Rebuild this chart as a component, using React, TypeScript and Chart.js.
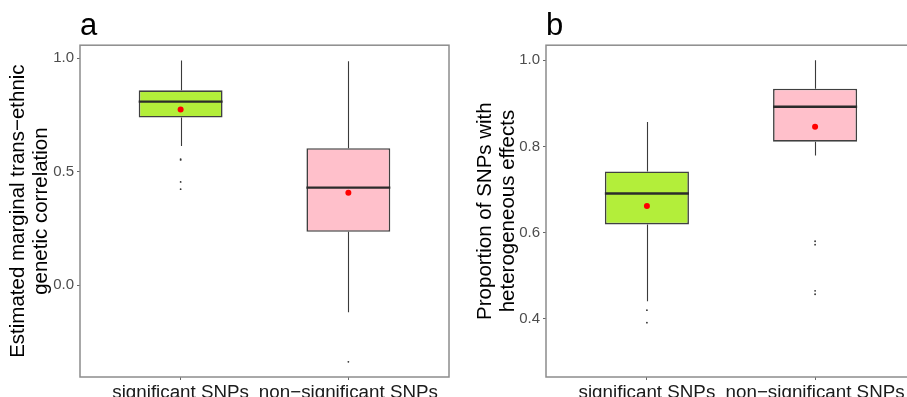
import React, { useEffect, useRef } from 'react';
import { Chart, registerables } from 'chart.js';

Chart.register(...registerables);

const FONT = "'Liberation Sans', Arial, sans-serif";

const categories = ['significant SNPs', 'non−significant SNPs'];
const xPositions = [1, 2];
const boxColors = ['#B3EE3A', '#FFC0CB'];

// Panel a: estimated marginal trans-ethnic genetic correlation
const aWhiskerLow = [0.614, -0.12];
const aQ1 = [0.739, 0.235];
const aMedian = [0.809, 0.43];
const aQ3 = [0.859, 0.604];
const aWhiskerHigh = [0.99, 0.987];
const aMean = [0.775, 0.407];
const aOutliers = [[0.556, 0.552, 0.455, 0.423], [-0.338]];
const aYTicks = [0, 0.5, 1.0];
const aYRange = [-0.405, 1.058];

// Panel b: proportion of SNPs with heterogeneous effects
const bWhiskerLow = [0.441, 0.779];
const bQ1 = [0.619, 0.811];
const bMedian = [0.691, 0.892];
const bQ3 = [0.742, 0.934];
const bWhiskerHigh = [0.857, 1.0];
const bMean = [0.662, 0.846];
const bOutliers = [[0.42, 0.391], [0.58, 0.572, 0.465, 0.457]];
const bYTicks = [0.4, 0.6, 0.8, 1.0];
const bYRange = [0.265, 1.035];

const boxExtras = {
  id: 'boxExtras',
  beforeDatasetsDraw(chart: any, _args: any, opts: any) {
    const ctx = chart.ctx;
    const xs = chart.scales.x;
    const ys = chart.scales.y;
    ctx.save();
    ctx.strokeStyle = '#3a3a3a';
    ctx.lineWidth = 1.1;
    opts.low.forEach((lo: number, i: number) => {
      const x = Math.round(xs.getPixelForValue(xPositions[i])) + 0.5;
      ctx.beginPath();
      ctx.moveTo(x, ys.getPixelForValue(opts.high[i]));
      ctx.lineTo(x, ys.getPixelForValue(opts.q3[i]));
      ctx.moveTo(x, ys.getPixelForValue(opts.q1[i]));
      ctx.lineTo(x, ys.getPixelForValue(lo));
      ctx.stroke();
    });
    ctx.restore();
  },
  afterDatasetDraw(chart: any, args: any, opts: any) {
    if (args.index !== 0) return;
    const ctx = chart.ctx;
    const ys = chart.scales.y;
    const meta = chart.getDatasetMeta(0);
    ctx.save();
    ctx.strokeStyle = '#2b2b2b';
    ctx.lineWidth = 2.4;
    meta.data.forEach((bar: any, i: number) => {
      const y = ys.getPixelForValue(opts.median[i]);
      ctx.beginPath();
      ctx.moveTo(bar.x - bar.width / 2, y);
      ctx.lineTo(bar.x + bar.width / 2, y);
      ctx.stroke();
    });
    ctx.restore();
  },
  afterDraw(chart: any) {
    const { left, top, right, bottom } = chart.chartArea;
    const ctx = chart.ctx;
    ctx.save();
    ctx.strokeStyle = '#8c8c8c';
    ctx.lineWidth = 1.5;
    ctx.strokeRect(left, top, right - left, bottom - top);
    ctx.restore();
  },
};

function makeConfig(p: any) {
  const outlierPts: any[] = [];
  p.outliers.forEach((arr: number[], i: number) =>
    arr.forEach((v) => outlierPts.push({ x: xPositions[i], y: v }))
  );
  return {
    type: 'bar',
    data: {
      datasets: [
        {
          type: 'bar',
          label: 'box',
          data: xPositions.map((x, i) => ({ x, y: [p.q1[i], p.q3[i]] })),
          backgroundColor: boxColors,
          borderColor: '#404040',
          borderWidth: 1.6,
          borderSkipped: false,
          categoryPercentage: 1,
          barPercentage: 0.5,
          order: 3,
        },
        {
          type: 'scatter',
          label: 'outliers',
          data: outlierPts,
          pointRadius: 0.9,
          pointBackgroundColor: '#333333',
          pointBorderWidth: 0,
          order: 2,
        },
        {
          type: 'scatter',
          label: 'mean',
          data: xPositions.map((x, i) => ({ x, y: p.mean[i] })),
          pointRadius: 3,
          pointBackgroundColor: '#FF0000',
          pointBorderWidth: 0,
          order: 1,
        },
      ],
    },
    options: {
      responsive: false,
      animation: false,
      events: [],
      layout: { padding: { left: 0, right: p.padRight, top: 0, bottom: 0 } },
      plugins: {
        legend: { display: false },
        tooltip: { enabled: false },
        title: {
          display: true,
          text: p.title,
          align: 'start',
          fullSize: false,
          color: '#000000',
          font: { family: FONT, size: 31, weight: 'normal', lineHeight: 1.2 },
          padding: { top: 8, bottom: 0 },
        },
        boxExtras: {
          low: p.low,
          q1: p.q1,
          median: p.median,
          q3: p.q3,
          high: p.high,
        },
      },
      scales: {
        x: {
          type: 'linear',
          min: 0.4,
          max: 2.6,
          offset: false,
          afterFit: (s: any) => {
            s.height = 20;
          },
          afterBuildTicks: (s: any) => {
            s.ticks = xPositions.map((v) => ({ value: v }));
          },
          ticks: {
            autoSkip: false,
            maxRotation: 0,
            padding: 3,
            color: '#1a1a1a',
            font: { family: FONT, size: 18.8, lineHeight: 1.0 },
            callback: (v: number) => categories[xPositions.indexOf(v)],
          },
          grid: {
            offset: false,
            drawOnChartArea: false,
            drawTicks: true,
            tickLength: 3,
            color: '#666666',
          },
          border: { display: false },
        },
        y: {
          type: 'linear',
          min: p.yRange[0],
          max: p.yRange[1],
          afterFit: (s: any) => {
            s.width = p.yWidth;
          },
          afterBuildTicks: (s: any) => {
            s.ticks = p.yTicks.map((v: number) => ({ value: v }));
          },
          ticks: {
            padding: 3,
            color: '#4d4d4d',
            font: { family: FONT, size: 15 },
            callback: (v: number) => v.toFixed(1),
          },
          grid: {
            drawOnChartArea: false,
            drawTicks: true,
            tickLength: 3,
            color: '#666666',
          },
          border: { display: false },
          title: {
            display: true,
            text: p.yTitle,
            color: '#000000',
            font: { family: FONT, size: 20.5, lineHeight: 1.12 },
            padding: { top: p.titlePad, bottom: 0 },
          },
        },
      },
    },
    plugins: [boxExtras],
  };
}

function Panel(props: any) {
  const ref = useRef<HTMLCanvasElement>(null);
  useEffect(() => {
    const chart = new Chart(ref.current as HTMLCanvasElement, makeConfig(props.p) as any);
    return () => chart.destroy();
  }, []);
  return (
    <div style={{ position: 'absolute', left: props.left, top: 0, width: props.width, height: 397 }}>
      <canvas ref={ref} width={props.width} height={397} style={{ display: 'block' }} />
    </div>
  );
}

const panelA = {
  title: 'a',
  yTitle: ['Estimated marginal trans−ethnic', 'genetic correlation'],
  low: aWhiskerLow,
  q1: aQ1,
  median: aMedian,
  q3: aQ3,
  high: aWhiskerHigh,
  mean: aMean,
  outliers: aOutliers,
  yTicks: aYTicks,
  yRange: aYRange,
  yWidth: 80,
  padRight: 4,
  titlePad: 7,
};

const panelB = {
  title: 'b',
  yTitle: ['Proportion of SNPs with', 'heterogeneous effects'],
  low: bWhiskerLow,
  q1: bQ1,
  median: bMedian,
  q3: bQ3,
  high: bWhiskerHigh,
  mean: bMean,
  outliers: bOutliers,
  yTicks: bYTicks,
  yRange: bYRange,
  yWidth: 93,
  padRight: 7,
  titlePad: 21,
};

export default function App() {
  return (
    <div
      style={{
        position: 'fixed',
        left: 0,
        top: 0,
        width: 907,
        height: 397,
        overflow: 'hidden',
        background: '#ffffff',
      }}
    >
      <Panel p={panelA} left={0} width={453} />
      <Panel p={panelB} left={453} width={470} />
    </div>
  );
}
